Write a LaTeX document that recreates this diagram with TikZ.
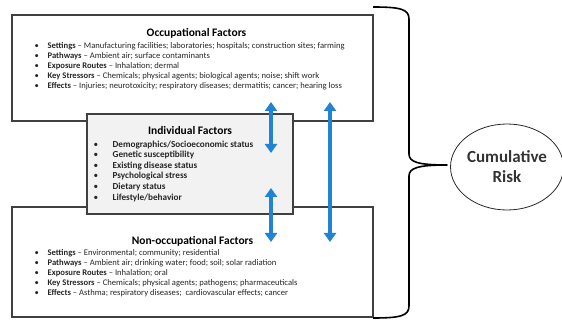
\documentclass[tikz,border=0pt]{standalone}
\usepackage{fontspec}
\setmainfont{Carlito}
\usepackage{tikz}
\usetikzlibrary{arrows.meta}
\usetikzlibrary{positioning}
\usetikzlibrary{shapes.geometric}
\definecolor{boxline}{RGB}{64,64,64}
\definecolor{indfill}{RGB}{242,242,242}
\definecolor{linkblue}{RGB}{34,130,212}
\tikzstyle{factorbox} = [draw=boxline, line width=1.1pt, inner sep=0pt]
\tikzstyle{boxtitle} = [font=\fontsize{11.5}{13}\selectfont\bfseries,
    inner sep=0pt, text height=8pt, text depth=2pt, anchor=north]
\tikzstyle{itemlist} = [font=\fontsize{8.6}{10}\selectfont, align=left,
    inner sep=0pt, anchor=north west, text=black!85]
\tikzstyle{link} = [draw=linkblue, line width=4pt,
    {Triangle[width=12pt,length=9pt]}-{Triangle[width=12pt,length=9pt]}]
\newcommand{\itm}[2]{\strut\makebox[13pt][l]{\textbullet}\textbf{#1} -- #2}
\newcommand{\ibul}[1]{\strut\makebox[19pt][l]{\textbullet}\textbf{#1}}

\begin{document}
\begin{tikzpicture}[x=1pt,y=-1pt]
\useasboundingbox (0,0) rectangle (562,320);
    %boxes
    \node[factorbox, minimum width=361pt, minimum height=106pt] (occ) at (192.5,68) {};
    \node[factorbox, minimum width=361pt, minimum height=110pt] (nonocc) at (192.5,262) {};
    \node[factorbox, fill=indfill, minimum width=206pt, minimum height=100pt] (ind) at (190,164) {};
    %titles
    \node[boxtitle, below=14pt of occ.north, xshift=4pt] (occtitle) {Occupational Factors};
    \node[boxtitle, below=13pt of ind.north] (indtitle) {Individual Factors};
    \node[boxtitle, below=30pt of nonocc.north] (nonocctitle) {Non-occupational Factors};
    %lists
    \node[itemlist, below right=27pt and 23pt of occ.north west] (occlist) {%
        \itm{Settings}{Manufacturing facilities; laboratories; hospitals; construction sites; farming}\\
        \itm{Pathways}{Ambient air; surface contaminants}\\
        \itm{Exposure Routes}{Inhalation; dermal}\\
        \itm{Key Stressors}{Chemicals; physical agents; biological agents; noise; shift work}\\
        \itm{Effects}{Injuries; neurotoxicity; respiratory diseases; dermatitis; cancer; hearing loss}};
    \node[itemlist, font=\fontsize{9.2}{10.6}\selectfont, below right=26pt and 7pt of ind.north west] (indlist) {%
        \ibul{Demographics/Socioeconomic status}\\
        \ibul{Genetic susceptibility}\\
        \ibul{Existing disease status}\\
        \ibul{Psychological stress}\\
        \ibul{Dietary status}\\
        \ibul{Lifestyle/behavior}};
    \node[itemlist, below right=42pt and 23pt of nonocc.north west] (nonocclist) {%
        \itm{Settings}{Environmental; community; residential}\\
        \itm{Pathways}{Ambient air; drinking water; food; soil; solar radiation}\\
        \itm{Exposure Routes}{Inhalation; oral}\\
        \itm{Key Stressors}{Chemicals; physical agents; pathogens; pharmaceuticals}\\
        \itm{Effects}{Asthma; respiratory diseases;~ cardiovascular effects; cancer}};
    %arrows
    \coordinate (occa) at (271,102);
    \coordinate (inda) at (271,153);
    \coordinate (indb) at (271,188);
    \coordinate (nonocca) at (271,242);
    \coordinate (occb) at (330,102);
    \coordinate (nonoccb) at (330,242);
    \draw[link] (occa) -- (inda);
    \draw[link] (indb) -- (nonocca);
    \draw[link] (occb) -- (nonoccb);
    %brace
    \coordinate (bracetop) at (373,7);
    \coordinate (bracetip) at (447,165);
    \coordinate (bracebot) at (373,318);
    \draw[line width=1.6pt, line join=round]
        (bracetop) .. controls (400,7) and (409,9) .. (409,19) -- (409,154)
        .. controls (409,162) and (418,165) .. (bracetip)
        .. controls (418,165) and (409,168) .. (409,176) -- (409,306)
        .. controls (409,316) and (400,318) .. (bracebot);
    %risk
    \node[ellipse, draw=black!85, line width=0.8pt, minimum width=107pt, minimum height=86pt,
        inner sep=0pt, align=center, font=\fontsize{17}{20}\selectfont\bfseries, text=black!80]
        (risk) at (507,167) {Cumulative\\Risk};
\end{tikzpicture}
\end{document}
